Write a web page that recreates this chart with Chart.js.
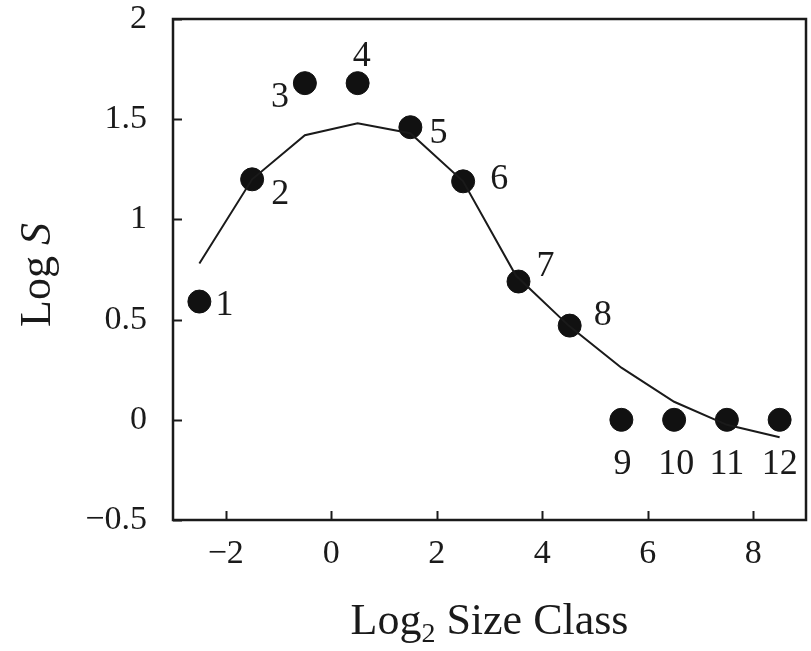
<!DOCTYPE html>
<html>
<head>
<meta charset="utf-8">
<script src="https://cdn.jsdelivr.net/npm/chart.js@4.4.1/dist/chart.umd.min.js"></script>
<style>
  html, body { margin: 0; padding: 0; background: #fff; }
  #wrap { width: 811px; height: 651px; }
</style>
</head>
<body>
<div id="wrap"><canvas id="grafico"></canvas></div>
<script>
// size classes (log2) and observed log S
var classeX = [-2.5, -1.5, -0.5, 0.5, 1.5, 2.5, 3.55, 4.52, 5.5, 6.5, 7.5, 8.5];
var logS = [0.59, 1.20, 1.68, 1.68, 1.46, 1.19, 0.69, 0.47, 0, 0, 0, 0];
var rotulos = ['1', '2', '3', '4', '5', '6', '7', '8', '9', '10', '11', '12'];

// fitted curve
var curvaX = [-2.5, -1.5, -0.5, 0.5, 1.5, 2.5, 3.5, 4.5, 5.5, 6.5, 7.5, 8.5];
var curvaY = [0.78, 1.20, 1.42, 1.48, 1.43, 1.19, 0.72, 0.47, 0.26, 0.09, -0.025, -0.087];

// axis ticks
var ticksX = [-2, 0, 2, 4, 6, 8];
var ticksY = [-0.5, 0, 0.5, 1, 1.5, 2];

var fonte = '"Liberation Serif", "DejaVu Serif", serif';
var cor = '#1a1a1a';

// offset of each number from its dot
var deslocamentos = [[25, 4], [28, 15], [-25, 14], [4, -27], [28, 6], [36, -2],
                     [27, -15], [33, -10], [1, 45], [2, 45], [0, 45], [0, 45]];

function menos(v) {
  return String(v).replace('-', '\u2212');
}

var pontos = classeX.map(function(x, i) { return { x: x, y: logS[i] }; });
var curva = curvaX.map(function(x, i) { return { x: x, y: curvaY[i] }; });

// frame, inward ticks, numbers and axis titles
var extras = {
  id: 'extras',
  beforeDatasetsDraw: function(chart) {
    var c = chart.ctx, a = chart.chartArea;
    var sx = chart.scales.x, sy = chart.scales.y;
    c.save();
    c.strokeStyle = cor;
    c.lineWidth = 2;
    ticksX.forEach(function(t) {
      var px = Math.round(sx.getPixelForValue(t)) + 0.5;
      c.beginPath(); c.moveTo(px, a.bottom); c.lineTo(px, a.bottom - 9); c.stroke();
    });
    ticksY.forEach(function(t) {
      var py = Math.round(sy.getPixelForValue(t)) + 0.5;
      c.beginPath(); c.moveTo(a.left, py); c.lineTo(a.left + 9, py); c.stroke();
    });
    c.lineWidth = 2.5;
    c.strokeRect(a.left, a.top, a.right - a.left, a.bottom - a.top);
    c.restore();
  },
  afterDatasetsDraw: function(chart) {
    var c = chart.ctx, a = chart.chartArea;
    var sx = chart.scales.x, sy = chart.scales.y;
    c.save();
    c.fillStyle = cor;
    c.textAlign = 'center';
    c.textBaseline = 'middle';
    c.font = '36px ' + fonte;
    rotulos.forEach(function(r, i) {
      var px = sx.getPixelForValue(classeX[i]) + deslocamentos[i][0];
      var py = sy.getPixelForValue(logS[i]) + deslocamentos[i][1];
      c.fillText(r, px, py);
    });

    // x title: Log2 Size Class
    c.textBaseline = 'alphabetic';
    c.textAlign = 'left';
    var t1 = 'Log', t2 = '2', t3 = ' Size Class';
    c.font = '44px ' + fonte;
    var w1 = c.measureText(t1).width, w3 = c.measureText(t3).width;
    c.font = '28px ' + fonte;
    var w2 = c.measureText(t2).width;
    var x0 = (a.left + a.right) / 2 - (w1 + w2 + w3) / 2;
    var yb = 634;
    c.font = '44px ' + fonte;
    c.fillText(t1, x0, yb);
    c.font = '28px ' + fonte;
    c.fillText(t2, x0 + w1, yb + 8);
    c.font = '44px ' + fonte;
    c.fillText(t3, x0 + w1 + w2, yb);

    // y title: Log S
    c.save();
    c.translate(50, 275);
    c.rotate(-Math.PI / 2);
    c.font = '44px ' + fonte;
    var wa = c.measureText('Log ').width;
    c.font = 'italic 44px ' + fonte;
    var wb = c.measureText('S').width;
    c.font = '44px ' + fonte;
    c.fillText('Log ', -(wa + wb) / 2, 0);
    c.font = 'italic 44px ' + fonte;
    c.fillText('S', -(wa + wb) / 2 + wa, 0);
    c.restore();
    c.restore();
  }
};

var ctx = document.getElementById('grafico').getContext('2d');
var grafico = new Chart(ctx, {
  type: 'scatter',
  data: {
    datasets: [{
      data: curva,
      showLine: true,
      borderColor: cor,
      borderWidth: 2,
      pointRadius: 0,
      tension: 0
    }, {
      data: pontos,
      showLine: false,
      backgroundColor: '#111',
      borderColor: '#111',
      pointRadius: 11.5,
      pointHoverRadius: 11.5
    }]
  },
  options: {
    responsive: true,
    maintainAspectRatio: false,
    animation: false,
    layout: { autoPadding: false, padding: { top: 19, right: 5, left: 0, bottom: 0 } },
    plugins: { legend: { display: false }, tooltip: { enabled: false } },
    scales: {
      x: {
        type: 'linear',
        min: -3,
        max: 9,
        afterBuildTicks: function(scale) {
          scale.ticks = ticksX.map(function(v) { return { value: v }; });
        },
        afterFit: function(scale) {
          scale.height = 131;
          scale.paddingLeft = 0;
          scale.paddingRight = 0;
        },
        grid: { display: false, drawTicks: false },
        border: { display: false },
        ticks: {
          padding: 14,
          color: cor,
          font: { family: fonte, size: 34 },
          callback: function(v) { return menos(v); }
        }
      },
      y: {
        type: 'linear',
        min: -0.5,
        max: 2,
        afterBuildTicks: function(scale) {
          scale.ticks = ticksY.map(function(v) { return { value: v }; });
        },
        afterFit: function(scale) {
          scale.width = 173;
          scale.paddingTop = 0;
          scale.paddingBottom = 0;
        },
        grid: { display: false, drawTicks: false },
        border: { display: false },
        ticks: {
          padding: 26,
          color: cor,
          font: { family: fonte, size: 34 },
          callback: function(v) { return menos(v); }
        }
      }
    }
  },
  plugins: [extras]
});
</script>
</body>
</html>
